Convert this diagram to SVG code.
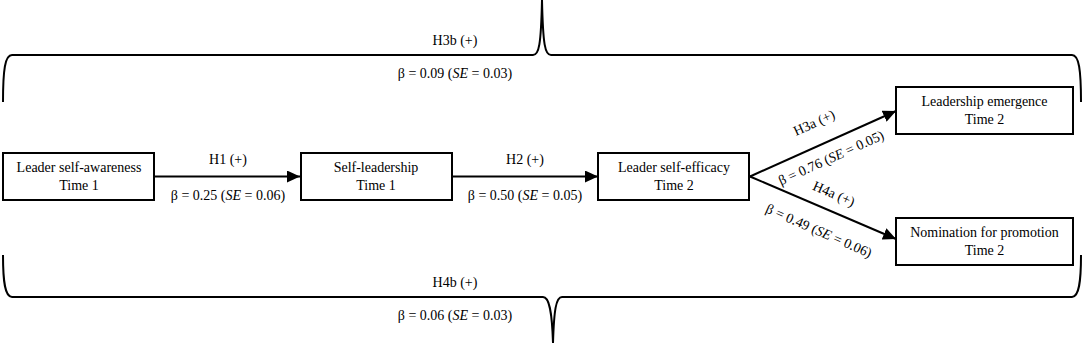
<svg xmlns="http://www.w3.org/2000/svg" width="1084" height="343" viewBox="0 0 1084 343">
<defs>
<marker id="ah" viewBox="0 0 13 12" refX="13" refY="6" markerWidth="13" markerHeight="12" markerUnits="userSpaceOnUse" orient="auto">
<path d="M0,0 L13,6 L0,12 Z" fill="#000"/>
</marker>
<style>
text{font-family:"Liberation Serif","Times New Roman",serif;font-size:14px;fill:#000;text-anchor:middle}
.box{fill:#fff;stroke:#000;stroke-width:2}
.edge{fill:none;stroke:#000;stroke-width:2;marker-end:url(#ah)}
.brace{fill:none;stroke:#000;stroke-width:2}
</style>
</defs>
<rect width="1084" height="343" fill="#fff"/>
<g id="braces">
<path class="brace" d="M3,102 C3,70 5,55 12,55 L533,55 C539,55 541,45 542,0 C543,45 545,55 551,55 L1072,55 C1079,55 1081,70 1081,102"/>
<path class="brace" d="M3,255 C3,282 5,297 12,297 L543,297 C549,297 552,310 553,343 C554,310 556,297 562,297 L1072,297 C1079,297 1081,282 1081,255"/>
</g>
<g id="connectors">
<line class="edge" x1="155" y1="176.5" x2="300" y2="176.5"/>
<line class="edge" x1="453" y1="176.5" x2="598" y2="176.5"/>
<line class="edge" x1="750" y1="176.5" x2="896" y2="111"/>
<line class="edge" x1="750" y1="176.5" x2="896" y2="239"/>
</g>
<g id="labels">
<text x="455" y="45">H3b (+)</text>
<text x="455" y="78">β = 0.09 (<tspan font-style="italic">SE</tspan> = 0.03)</text>
<text x="228" y="164">H1 (+)</text>
<text x="228" y="200">β = 0.25 (<tspan font-style="italic">SE</tspan> = 0.06)</text>
<text x="525" y="164">H2 (+)</text>
<text x="525" y="200">β = 0.50 (<tspan font-style="italic">SE</tspan> = 0.05)</text>
<text transform="translate(816,127) rotate(-24.3)">H3a (+)</text>
<text transform="translate(833,162) rotate(-24.3)">β = 0.76 (<tspan font-style="italic">SE</tspan> = 0.05)</text>
<text transform="translate(832,198) rotate(23.7)">H4a (+)</text>
<text transform="translate(817,235) rotate(23.7)">β = 0.49 (<tspan font-style="italic">SE</tspan> = 0.06)</text>
<text x="455" y="287">H4b (+)</text>
<text x="455" y="320">β = 0.06 (<tspan font-style="italic">SE</tspan> = 0.03)</text>
</g>
<g id="n1"><rect class="box" x="3" y="153" width="151" height="47"/><text x="79" y="172">Leader self-awareness</text><text x="79" y="190">Time 1</text></g>
<g id="n2"><rect class="box" x="301" y="153" width="151" height="47"/><text x="376" y="172">Self-leadership</text><text x="376" y="190">Time 1</text></g>
<g id="n3"><rect class="box" x="598" y="153" width="151" height="47"/><text x="674" y="172">Leader self-efficacy</text><text x="674" y="190">Time 2</text></g>
<g id="n4"><rect class="box" x="896" y="87" width="177" height="47"/><text x="984.5" y="106">Leadership emergence</text><text x="984.5" y="124">Time 2</text></g>
<g id="n5"><rect class="box" x="896" y="218" width="177" height="47"/><text x="984.5" y="237">Nomination for promotion</text><text x="984.5" y="255">Time 2</text></g>
</svg>
